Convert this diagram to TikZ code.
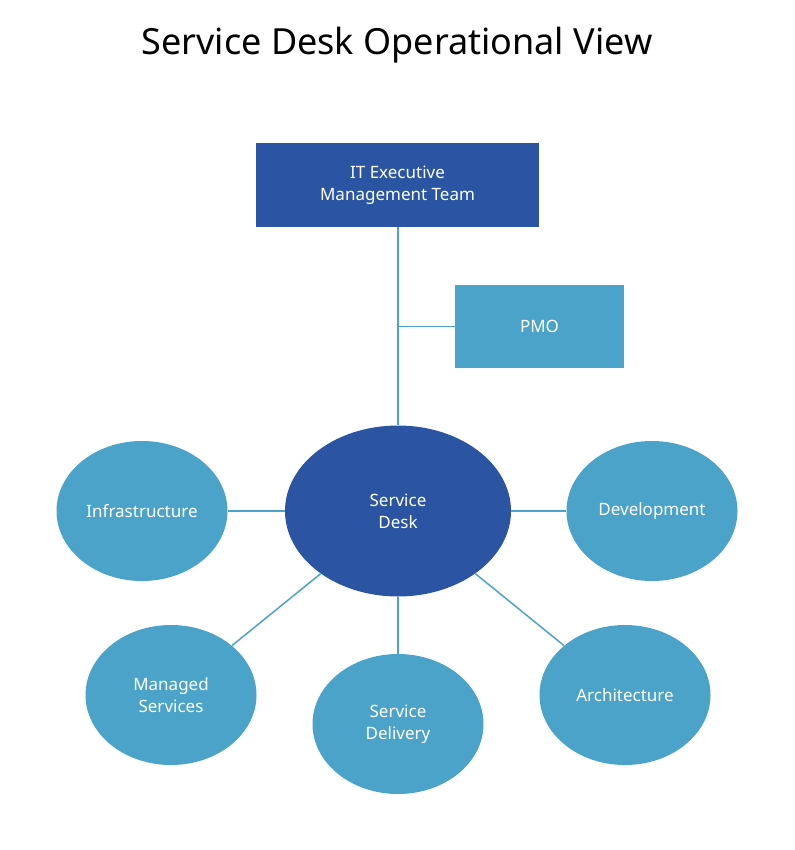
\documentclass[tikz,border=0pt]{standalone}
\usepackage{fontspec}
\setmainfont{Noto Sans}
\usetikzlibrary{shapes.geometric}
\definecolor{darkblue}{HTML}{2B55A3}
\definecolor{lightblue}{HTML}{4BA3C9}
\begin{document}
\begin{tikzpicture}
[x=1pt,y=-1pt,
box/.style={rectangle,draw=none,text=white,align=center,font=\fontsize{17}{22}\selectfont},
unit/.style={ellipse,draw=none,fill=lightblue,text=white,align=center,inner sep=0pt,
  minimum width=171pt,minimum height=140pt,font=\fontsize{17}{22}\selectfont},
link/.style={draw=lightblue,line width=1.5pt}]
\useasboundingbox (0,0) rectangle (794,850);
\node[font=\fontsize{36}{40}\selectfont] (title) at (397,45) {Service Desk Operational View};
\node[box,fill=darkblue,minimum width=283pt,minimum height=84pt] (exec) at (397.5,185) {IT Executive\\Management Team};
\node[box,fill=lightblue,minimum width=169pt,minimum height=83pt] (pmo) at (539.5,326.5) {PMO};
\node[unit,fill=darkblue,minimum width=226pt,minimum height=171pt] (desk) at (398,511) {Service\\Desk};
\node[unit] (infra) at (142,511) {Infrastructure};
\node[unit] (dev) at (652,511) {Development};
\node[unit] (managed) at (171,695) {Managed\\Services};
\node[unit] (delivery) at (398,724) {Service\\Delivery};
\node[unit] (arch) at (625,695) {Architecture};
\coordinate (branch) at (398,326.5);
% connectors
\draw[link] (exec.south -| desk.north) -- (desk.north);
\draw[link] (branch) -- (pmo.west);
\draw[link] (desk) -- (infra);
\draw[link] (desk) -- (dev);
\draw[link] (desk) -- (managed);
\draw[link] (desk) -- (delivery);
\draw[link] (desk) -- (arch);
\end{tikzpicture}
\end{document}
